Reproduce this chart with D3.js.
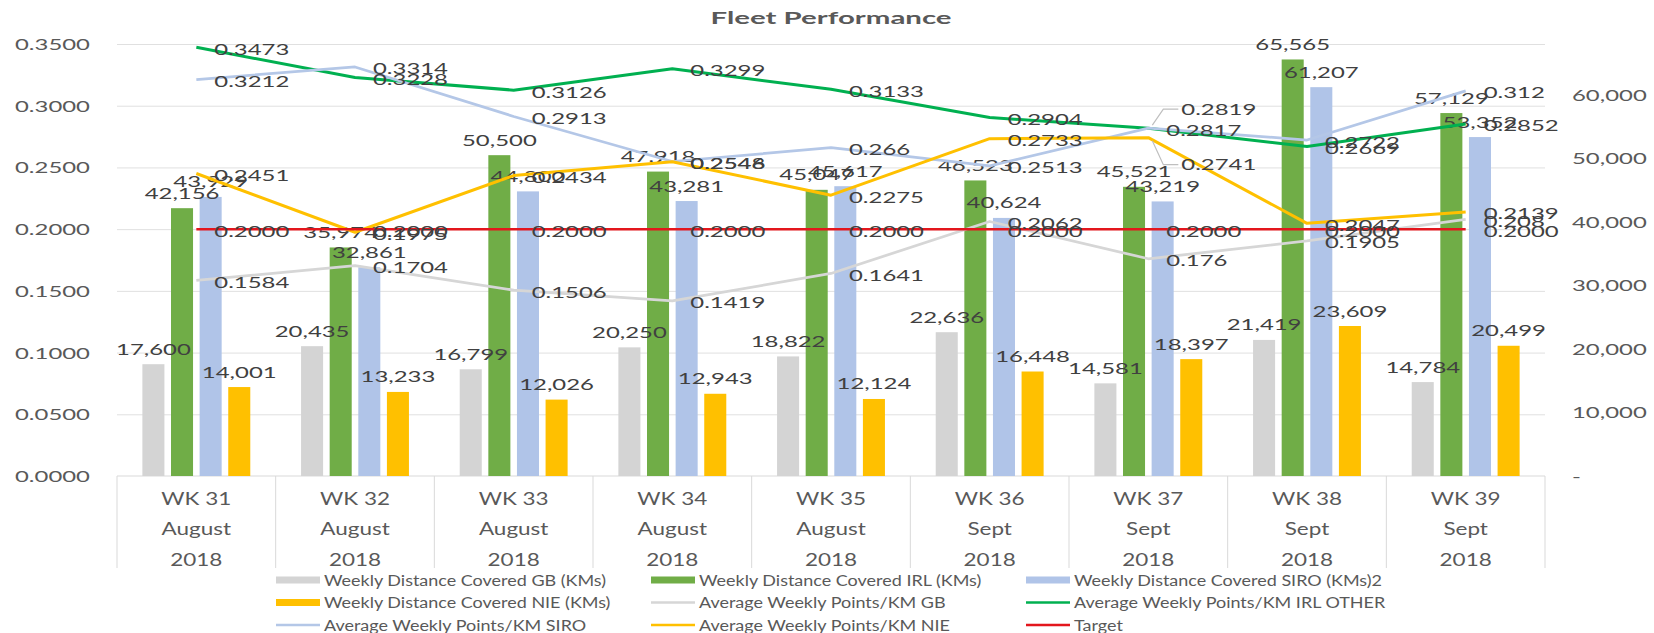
<!DOCTYPE html>
<html>
<head>
<meta charset="utf-8">
<script src="https://cdn.jsdelivr.net/npm/d3@7/dist/d3.min.js"></script>
<style>
  body { margin: 0; background: #fff; }
  svg text { font-family: Lato, "Open Sans", sans-serif; }
  .title { font-size: 17.5px; font-weight: 700; fill: #595959; }
  .num { font-size: 14.5px; fill: #404040; }
  .axis-num { font-size: 14.5px; fill: #595959; }
  .cat { font-size: 17px; fill: #595959; }
  .leg { font-size: 14.5px; fill: #595959; }
</style>
</head>
<body>
<svg id="chart"></svg>
<script>
// categories
const weeks = ["WK 31", "WK 32", "WK 33", "WK 34", "WK 35", "WK 36", "WK 37", "WK 38", "WK 39"];
const months = ["August", "August", "August", "August", "August", "Sept", "Sept", "Sept", "Sept"];
const years = ["2018", "2018", "2018", "2018", "2018", "2018", "2018", "2018", "2018"];

// weekly distance (KMs) - right axis
const gbKms = [17600, 20435, 16799, 20250, 18822, 22636, 14581, 21419, 14784];
const irlKms = [42156, 35974, 50500, 47918, 45047, 46523, 45521, 65565, 57129];
const siroKms = [43929, 32861, 44800, 43281, 45617, 40624, 43219, 61207, 53352];
const nieKms = [14001, 13233, 12026, 12943, 12124, 16448, 18397, 23609, 20499];

// average weekly points / KM - left axis
const gbAvg = [0.1584, 0.1704, 0.1506, 0.1419, 0.1641, 0.2062, 0.176, 0.1905, 0.208];
const irlOtherAvg = [0.3473, 0.3228, 0.3126, 0.3299, 0.3133, 0.2904, 0.2817, 0.2669, 0.2852];
const siroAvg = [0.3212, 0.3314, 0.2913, 0.2548, 0.266, 0.2513, 0.2819, 0.2722, 0.312];
const nieAvg = [0.2451, 0.1975, 0.2434, 0.2546, 0.2275, 0.2733, 0.2741, 0.2047, 0.2139];
const target = [0.2, 0.2, 0.2, 0.2, 0.2, 0.2, 0.2, 0.2, 0.2];

// tick labels
const leftTicks = [0, 0.05, 0.1, 0.15, 0.2, 0.25, 0.3, 0.35];
const rightTicks = [0, 10000, 20000, 30000, 40000, 50000, 60000];

(function () {

const W = 1654, H = 633;
const plot = {left: 117, right: 1545, top: 44, bottom: 476};

const svg = d3.select("#chart").attr("width", W).attr("height", H);

// the source picture is stretched sideways, so text is widened to match
function factor(cls, sample, width) {
    const t = svg.append("text").attr("class", cls).text(sample);
    const k = width / t.node().getComputedTextLength();
    t.remove();
    return k;
}
function stretch(sel, k) {
    sel.each(function () {
        const w = this.getComputedTextLength();
        if (w > 0) d3.select(this).attr("textLength", w * k).attr("lengthAdjust", "spacingAndGlyphs");
    });
}
const kNum = factor("num", "0.3473", 75);
const kAxis = factor("axis-num", "0.3500", 75);
const kCat = factor("cat", "WK 31", 70);
const kLeg = factor("leg", "Weekly Distance Covered GB (KMs)", 282);
const kTitle = factor("title", "Fleet Performance", 241);

const barSeries = [
    {key: "gb", name: "Weekly Distance Covered GB (KMs)", values: gbKms, color: "#D4D4D4"},
    {key: "irl", name: "Weekly Distance Covered IRL (KMs)", values: irlKms, color: "#70AD47"},
    {key: "siro", name: "Weekly Distance Covered SIRO (KMs)2", values: siroKms, color: "#B0C4E8"},
    {key: "nie", name: "Weekly Distance Covered NIE (KMs)", values: nieKms, color: "#FFC000"}
];
const lineSeries = [
    {key: "gbAvg", name: "Average Weekly Points/KM GB", values: gbAvg, color: "#D6D6D6", width: 2.75},
    {key: "irlAvg", name: "Average Weekly Points/KM IRL OTHER", values: irlOtherAvg, color: "#00B050", width: 3},
    {key: "siroAvg", name: "Average Weekly Points/KM SIRO", values: siroAvg, color: "#B4C7E7", width: 2.75},
    {key: "nieAvg", name: "Average Weekly Points/KM NIE", values: nieAvg, color: "#FFC000", width: 3},
    {key: "target", name: "Target", values: target, color: "#E3161D", width: 2.5}
];

// Scales
const x0 = d3.scaleBand().domain(weeks).range([plot.left, plot.right]);
const bw = x0.bandwidth();
const groupW = bw * 0.68;
const x1 = d3.scaleBand()
    .domain(barSeries.map(d => d.key))
    .range([-groupW / 2, groupW / 2])
    .paddingInner(0.23);
const yL = d3.scaleLinear().domain([0, 0.35]).range([plot.bottom, plot.top]);
const yR = d3.scaleLinear().domain([0, 68000]).range([plot.bottom, plot.top]);
const cx = i => x0(weeks[i]) + bw / 2;

// Title
svg.append("text")
    .attr("class", "title")
    .attr("x", 831)
    .attr("y", 17)
    .attr("text-anchor", "middle")
    .attr("dominant-baseline", "central")
    .text("Fleet Performance")
    .call(stretch, kTitle);

// Gridlines
svg.append("g")
    .attr("transform", `translate(${plot.left},0)`)
    .call(d3.axisLeft(yL).tickValues(leftTicks.slice(1)).tickSize(-(plot.right - plot.left)).tickFormat(""))
    .call(g => g.select(".domain").remove())
    .call(g => g.selectAll("line").attr("stroke", "#E0E0E0"));

// Left axis labels
svg.append("g")
    .attr("transform", `translate(${plot.left},0)`)
    .call(d3.axisLeft(yL).tickValues(leftTicks).tickFormat(d3.format(".4f")).tickSize(0).tickPadding(27))
    .call(g => g.select(".domain").remove())
    .call(g => g.selectAll("text").attr("class", "axis-num").attr("dy", null)
        .attr("dominant-baseline", "central").call(stretch, kAxis));

// Right axis labels
svg.append("g")
    .attr("transform", `translate(${plot.right},0)`)
    .call(d3.axisRight(yR).tickValues(rightTicks)
        .tickFormat(d => d === 0 ? "-" : d3.format(",")(d)).tickSize(0).tickPadding(27))
    .call(g => g.select(".domain").remove())
    .call(g => g.selectAll("text").attr("class", "axis-num").attr("dy", null)
        .attr("dominant-baseline", "central").call(stretch, kAxis));

// Category axis (three levels in boxes)
const cat = svg.append("g");
cat.append("line")
    .attr("x1", plot.left).attr("x2", plot.right)
    .attr("y1", plot.bottom).attr("y2", plot.bottom)
    .attr("stroke", "#D9D9D9");
cat.selectAll(".sep")
    .data(weeks.map(w => x0(w)).concat([plot.right]))
    .enter().append("line")
    .attr("class", "sep")
    .attr("x1", d => d).attr("x2", d => d)
    .attr("y1", plot.bottom).attr("y2", plot.bottom + 92)
    .attr("stroke", "#D9D9D9");
[weeks, months, years].forEach((row, r) => {
    cat.selectAll(".row" + r)
        .data(row)
        .enter().append("text")
        .attr("class", "cat")
        .attr("x", (d, i) => cx(i))
        .attr("y", plot.bottom + 22 + r * 30.7)
        .attr("text-anchor", "middle")
        .attr("dominant-baseline", "central")
        .text(d => d)
        .call(stretch, kCat);
});

// Bars
const groups = svg.selectAll(".week")
    .data(weeks)
    .enter().append("g")
    .attr("class", "week")
    .attr("transform", d => `translate(${x0(d) + bw / 2},0)`);

groups.selectAll("rect")
    .data((w, i) => barSeries.map(s => ({key: s.key, color: s.color, value: s.values[i]})))
    .enter().append("rect")
    .attr("x", d => x1(d.key))
    .attr("y", d => yR(d.value))
    .attr("width", x1.bandwidth())
    .attr("height", d => plot.bottom - yR(d.value))
    .attr("fill", d => d.color);

// Lines
const line = d3.line().x((d, i) => cx(i)).y(d => yL(d));
svg.selectAll(".series")
    .data(lineSeries)
    .enter().append("path")
    .attr("class", "series")
    .attr("d", d => line(d.values))
    .attr("fill", "none")
    .attr("stroke", d => d.color)
    .attr("stroke-width", d => d.width)
    .attr("stroke-linejoin", "round");

// Bar value labels
groups.selectAll(".bar-label")
    .data((w, i) => barSeries.map(s => ({key: s.key, value: s.values[i]})))
    .enter().append("text")
    .attr("class", "num bar-label")
    .attr("x", d => x1(d.key) + x1.bandwidth() / 2)
    .attr("y", d => yR(d.value) - 15)
    .attr("text-anchor", "middle")
    .attr("dominant-baseline", "central")
    .text(d => d3.format(",")(d.value))
    .call(stretch, kNum);

// Line value labels (a few were dragged aside in the source, with leader lines)
const moved = {"siroAvg-6": [15, -21], "nieAvg-6": [15, 25]};
lineSeries.forEach(s => {
    const fmt = s.key === "target" ? d3.format(".4f") : String;
    s.values.forEach((v, i) => {
        const m = moved[s.key + "-" + i] || [0, 0];
        const lx = cx(i) + 18 + m[0], ly = yL(v) + 2 + m[1];
        if (m[1] !== 0) {
            svg.append("path")
                .attr("d", `M${lx - 3},${ly} H${lx - 18} L${cx(i) + 4},${yL(v) + (m[1] < 0 ? -3 : 3)}`)
                .attr("fill", "none")
                .attr("stroke", "#BFBFBF")
                .attr("stroke-width", 1.2);
        }
        svg.append("text")
            .attr("class", "num")
            .attr("x", lx)
            .attr("y", ly)
            .attr("dominant-baseline", "central")
            .text(fmt(v))
            .call(stretch, kNum);
    });
});

// Legend
const legendItems = barSeries.map(s => ({name: s.name, color: s.color, type: "bar"}))
    .concat(lineSeries.map(s => ({name: s.name, color: s.color, type: "line"})));
const legend = svg.selectAll(".legend-item")
    .data(legendItems)
    .enter().append("g")
    .attr("class", "legend-item")
    .attr("transform", (d, i) => `translate(${276 + (i % 3) * 375},${580 + Math.floor(i / 3) * 22.5})`);
legend.filter(d => d.type === "bar").append("rect")
    .attr("x", 0).attr("y", -3.5)
    .attr("width", 44).attr("height", 7)
    .attr("fill", d => d.color);
legend.filter(d => d.type === "line").append("line")
    .attr("x1", 0).attr("x2", 44)
    .attr("stroke", d => d.color)
    .attr("stroke-width", 2.5);
legend.append("text")
    .attr("class", "leg")
    .attr("x", 48)
    .attr("dominant-baseline", "central")
    .text(d => d.name)
    .call(stretch, kLeg);

})();
</script>
</body>
</html>
